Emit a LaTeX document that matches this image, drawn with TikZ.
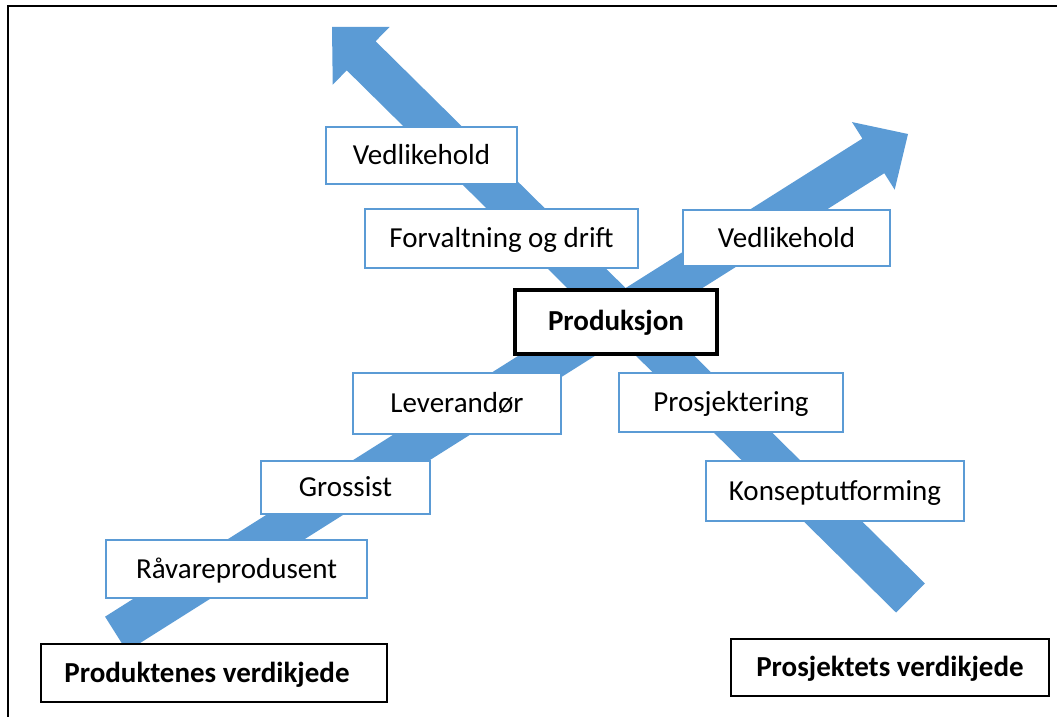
\documentclass[tikz,border=0pt]{standalone}
\usepackage{fontspec}
\setmainfont{Carlito}
\usetikzlibrary{calc}
\definecolor{chainblue}{HTML}{5B9BD5}

% block arrow: tail centre, tip, half shaft width, half head width, head length
\newcommand\blockarrow[5]{%
  \coordinate (#2-base) at ($(#2)!#5!(#1)$);
  \fill[chainblue]
    ($(#1)!#3!-90:(#2)$) --
    ($(#2-base)!#3!-90:(#2)$) --
    ($(#2-base)!#4!-90:(#2)$) --
    (#2) --
    ($(#2-base)!#4!90:(#2)$) --
    ($(#2-base)!#3!90:(#2)$) --
    ($(#1)!#3!90:(#2)$) -- cycle;
}

\tikzset{
  label text/.style={font=\fontsize{29}{35}\selectfont, text height=18.7pt, text depth=0pt, inner sep=0pt},
  stage/.style={label text, draw=chainblue, line width=1.5pt, fill=white},
  chainbox/.style={label text, draw=black, line width=2pt, fill=white},
  corebox/.style={label text, draw=black, line width=4pt, fill=white},
  frame/.style={draw=black, line width=2.5pt}
}

\begin{document}
\begin{tikzpicture}[x=1pt, y=-1pt]
  \useasboundingbox (0,0) rectangle (1057,717);

  % outer frame (top and left edges)
  \draw[frame] (1060,6) -- (8,6) -- (8,720);

  % value-chain arrows
  \coordinate (prodtail) at (116,634);
  \coordinate (prodtip)  at (908,134);
  \coordinate (projtail) at (910.5,598);
  \coordinate (projtip)  at (332,27);
  \blockarrow{prodtail}{prodtip}{20.5pt}{40pt}{41pt}
  \blockarrow{projtail}{projtip}{20.5pt}{40.5pt}{41pt}

  % project chain stages
  \node[stage, minimum width=191, minimum height=57] (vedl1) at (421.5,155.5) {Vedlikehold};
  \node[stage, minimum width=273, minimum height=59] (forv)  at (501.5,238.5) {Forvaltning og drift};
  \node[stage, minimum width=224, minimum height=59] (prosj) at (731,402.5) {Prosjektering};
  \node[stage, minimum width=258, minimum height=60] (konsp) at (835,491) {Konseptutforming};

  % product chain stages
  \node[stage, minimum width=207, minimum height=56] (vedl2) at (786.5,238) {Vedlikehold};
  \node[stage, minimum width=208, minimum height=61] (lever) at (457,403.5) {Leverandør};
  \node[stage, minimum width=169, minimum height=53] (gross) at (345.5,487.5) {Grossist};
  \node[stage, minimum width=261, minimum height=58] (raava) at (236.5,569) {Råvareprodusent};

  % centre
  \node[corebox, minimum width=202, minimum height=64, font=\fontsize{29}{35}\selectfont\bfseries] (prod) at (616,321.5) {Produksjon};

  % chain titles
  \node[chainbox, minimum width=346, minimum height=58] (pvbox) at (214,673) {};
  \node[label text, font=\fontsize{29}{35}\selectfont\bfseries] (pvtext) at (207,673) {Produktenes verdikjede};
  \node[chainbox, minimum width=318, minimum height=57, font=\fontsize{29}{35}\selectfont\bfseries] (pjbox) at (890,667.5) {Prosjektets verdikjede};
\end{tikzpicture}
\end{document}
